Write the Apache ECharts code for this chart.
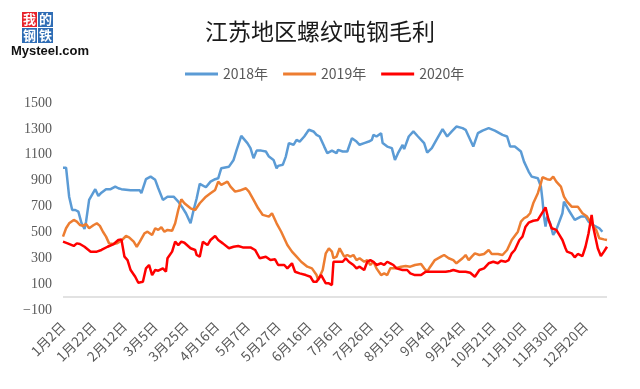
<!DOCTYPE html>
<html>
<head>
<meta charset="utf-8">
<script src="https://cdn.jsdelivr.net/npm/echarts@6/dist/echarts.min.js"></script>
<style>
html,body{margin:0;padding:0;background:#fff;}
#chart{width:640px;height:389px;}
</style>
</head>
<body>
<div id="chart"></div>
<script>
// Tick labels (every 20 trading-day slots)
const tickLabels = ['1月2日','1月22日','2月12日','3月5日','3月25日','4月16日','5月7日','5月27日','6月16日','7月6日','7月26日','8月15日','9月4日','9月24日','10月21日','11月10日','11月30日','12月20日'];
const seriesNames = ['2018年','2019年','2020年'];

// [day slot index, gross profit per ton]
const s2018 = [[0,1000],[2,1000],[4,776],[6,673],[8,673],[10,660],[12,573],[14,526],[15,583],[17,751],[21,834],[23,782],[25,807],[28,834],[31,834],[34,854],[36,841],[38,834],[44,825],[50,825],[51,803],[54,911],[57,931],[60,906],[62,841],[65,751],[68,776],[72,776],[75,738],[78,686],[80,648],[83,570],[85,673],[87,764],[89,875],[93,849],[96,892],[99,911],[101,918],[103,996],[108,1008],[111,1060],[113,1138],[116,1246],[120,1190],[122,1151],[124,1073],[126,1132],[129,1132],[132,1125],[134,1086],[137,1060],[139,996],[140,1014],[143,1022],[145,1086],[147,1190],[150,1177],[152,1215],[154,1202],[157,1241],[160,1293],[163,1280],[165,1254],[167,1241],[170,1163],[172,1112],[175,1132],[178,1112],[179,1138],[182,1125],[185,1125],[188,1228],[191,1202],[193,1177],[196,1190],[199,1202],[201,1215],[202,1254],[204,1241],[207,1267],[208,1190],[211,1163],[214,1151],[216,1060],[218,1112],[221,1177],[222,1143],[225,1241],[228,1280],[231,1241],[235,1190],[237,1117],[240,1151],[243,1215],[247,1298],[250,1241],[253,1280],[256,1318],[260,1306],[262,1293],[264,1241],[267,1163],[270,1267],[273,1287],[277,1306],[281,1287],[286,1254],[289,1241],[291,1163],[294,1163],[298,1125],[300,1047],[303,970],[305,931],[309,918],[311,854],[312,751],[313,622],[314,544],[315,622],[317,570],[319,480],[321,519],[325,648],[326,738],[329,673],[333,596],[337,622],[340,622],[342,583],[345,557],[349,532],[351,505]];

const s2019 = [[0,467],[2,532],[4,570],[7,596],[9,583],[11,557],[13,550],[15,565],[17,532],[20,557],[22,570],[24,550],[26,505],[28,467],[30,415],[33,410],[35,415],[38,436],[41,472],[43,462],[46,428],[48,389],[50,428],[53,493],[55,505],[58,480],[60,532],[62,519],[64,539],[66,505],[68,519],[71,513],[73,570],[75,673],[77,756],[79,725],[83,686],[86,673],[89,725],[93,776],[96,803],[99,828],[101,892],[103,867],[107,892],[109,854],[112,815],[115,823],[119,841],[121,815],[124,751],[127,686],[130,635],[134,622],[136,648],[139,570],[142,505],[146,402],[149,351],[152,312],[155,273],[159,235],[162,222],[165,170],[166,132],[169,209],[171,338],[173,377],[175,351],[176,300],[178,312],[180,377],[183,312],[185,325],[187,312],[189,325],[191,286],[193,300],[196,273],[198,286],[200,248],[202,273],[204,222],[207,170],[209,183],[211,170],[213,222],[216,222],[220,235],[223,240],[226,235],[229,248],[233,255],[235,222],[237,196],[239,235],[242,286],[246,312],[248,325],[251,300],[254,286],[256,261],[260,300],[262,325],[264,286],[266,312],[268,338],[271,325],[274,333],[277,364],[279,333],[283,333],[286,325],[289,364],[292,441],[296,505],[298,583],[300,609],[302,622],[304,648],[306,725],[309,803],[311,880],[312,926],[315,911],[317,906],[319,931],[321,892],[324,854],[326,776],[328,738],[331,699],[335,699],[338,648],[341,622],[344,565],[347,519],[349,454],[352,446],[354,441]];

const s2020 = [[0,428],[3,415],[7,395],[9,415],[11,410],[14,389],[18,351],[22,351],[25,364],[29,389],[33,410],[36,441],[38,446],[40,312],[42,286],[44,209],[47,157],[49,111],[52,118],[54,222],[56,248],[58,170],[60,209],[62,204],[65,222],[67,196],[68,300],[71,351],[73,428],[75,402],[77,428],[79,420],[83,377],[86,364],[87,325],[89,312],[91,428],[94,402],[96,441],[99,472],[101,441],[104,415],[108,377],[111,389],[114,395],[117,384],[122,384],[125,364],[128,300],[132,312],[135,286],[138,292],[140,248],[144,248],[146,222],[149,261],[151,196],[154,183],[158,170],[161,157],[163,118],[165,118],[168,170],[171,106],[173,106],[175,93],[176,80],[176,273],[179,273],[182,273],[184,300],[186,273],[189,248],[191,222],[193,235],[196,209],[198,273],[200,286],[202,273],[204,248],[207,261],[209,248],[211,273],[213,261],[215,248],[217,222],[221,209],[224,209],[226,183],[229,170],[233,170],[236,196],[242,196],[249,196],[252,201],[254,209],[258,196],[262,196],[265,188],[268,157],[271,209],[274,222],[277,261],[280,273],[283,261],[285,281],[288,273],[290,286],[292,338],[294,364],[297,441],[299,467],[301,544],[303,575],[306,590],[309,596],[311,635],[313,673],[314,694],[316,596],[318,532],[321,519],[323,480],[325,441],[327,377],[328,351],[331,338],[333,307],[335,333],[338,317],[340,389],[342,493],[344,635],[345,544],[348,377],[350,317],[352,351],[354,389]];

const colors = ['#5B9BD5','#ED7D31','#FF0000'];

const chart = echarts.init(document.getElementById('chart'), null, {renderer:'canvas'});
const mk = (name, data, color, extra) => Object.assign({
  name, type:'line', data, symbol:'none', smooth:false, silent:true,
  lineStyle:{color, width:2.5}, itemStyle:{color}
}, extra || {});

chart.setOption({
  animation:false,
  backgroundColor:'#fff',
  title:{
    text:'江苏地区螺纹吨钢毛利', left:'center', top:15,
    textStyle:{fontFamily:'Noto Sans CJK SC', fontSize:23, fontWeight:'normal', color:'#1a1a1a'}
  },
  legend:{
    data:seriesNames, left:180, top:62, itemWidth:33, itemHeight:3, itemGap:15,
    icon:'rect',
    textStyle:{fontFamily:'Noto Sans CJK SC', fontSize:14, color:'#595959'}
  },
  grid:{left:63, right:33, top:103, bottom:79, containLabel:false},
  xAxis:{
    type:'value', min:0, max:354, interval:20,
    axisLine:{show:false}, axisTick:{show:false}, splitLine:{show:false},
    axisLabel:{
      rotate:45, margin:14, fontFamily:'Noto Sans CJK SC', fontSize:13.5, color:'#595959',
      showMaxLabel:false,
      formatter:(v)=> (v % 20 === 0 && tickLabels[v/20]) ? tickLabels[v/20] : ''
    }
  },
  yAxis:{
    type:'value', min:-100, max:1500, interval:200,
    axisLine:{show:false}, axisTick:{show:false}, splitLine:{show:false},
    axisLabel:{margin:11, fontFamily:'Liberation Serif', fontSize:14, color:'#595959',
      formatter:(v)=> (v < 0 ? '\u2212' + Math.abs(v) : String(v))}
  },
  graphic:[
    {type:'rect', shape:{x:22,y:12,width:15,height:15}, style:{fill:'#e8242c'}},
    {type:'rect', shape:{x:38,y:12,width:15,height:15}, style:{fill:'#2f6db5'}},
    {type:'rect', shape:{x:22,y:28,width:15,height:15}, style:{fill:'#2f6db5'}},
    {type:'rect', shape:{x:38,y:28,width:15,height:15}, style:{fill:'#2f6db5'}},
    {type:'text', style:{x:29.5,y:19.5,text:'我',fill:'#fff',font:'bold 13px "Noto Sans CJK SC"',align:'center',verticalAlign:'middle'}},
    {type:'text', style:{x:45.5,y:19.5,text:'的',fill:'#fff',font:'bold 13px "Noto Sans CJK SC"',align:'center',verticalAlign:'middle'}},
    {type:'text', style:{x:29.5,y:35.5,text:'钢',fill:'#fff',font:'bold 13px "Noto Sans CJK SC"',align:'center',verticalAlign:'middle'}},
    {type:'text', style:{x:45.5,y:35.5,text:'铁',fill:'#fff',font:'bold 13px "Noto Sans CJK SC"',align:'center',verticalAlign:'middle'}},
    {type:'text', style:{x:11,y:51,text:'Mysteel.com',fill:'#111',font:'bold 13px "Liberation Sans"',align:'left',verticalAlign:'middle'}}
  ],
  series:[
    mk(seriesNames[0], s2018, colors[0], {
      markLine:{silent:true, symbol:'none', label:{show:false},
        lineStyle:{color:'#d9d9d9', type:'solid', width:1.5},
        data:[{yAxis:0}]}
    }),
    mk(seriesNames[1], s2019, colors[1]),
    mk(seriesNames[2], s2020, colors[2])
  ]
});
</script>
</body>
</html>
